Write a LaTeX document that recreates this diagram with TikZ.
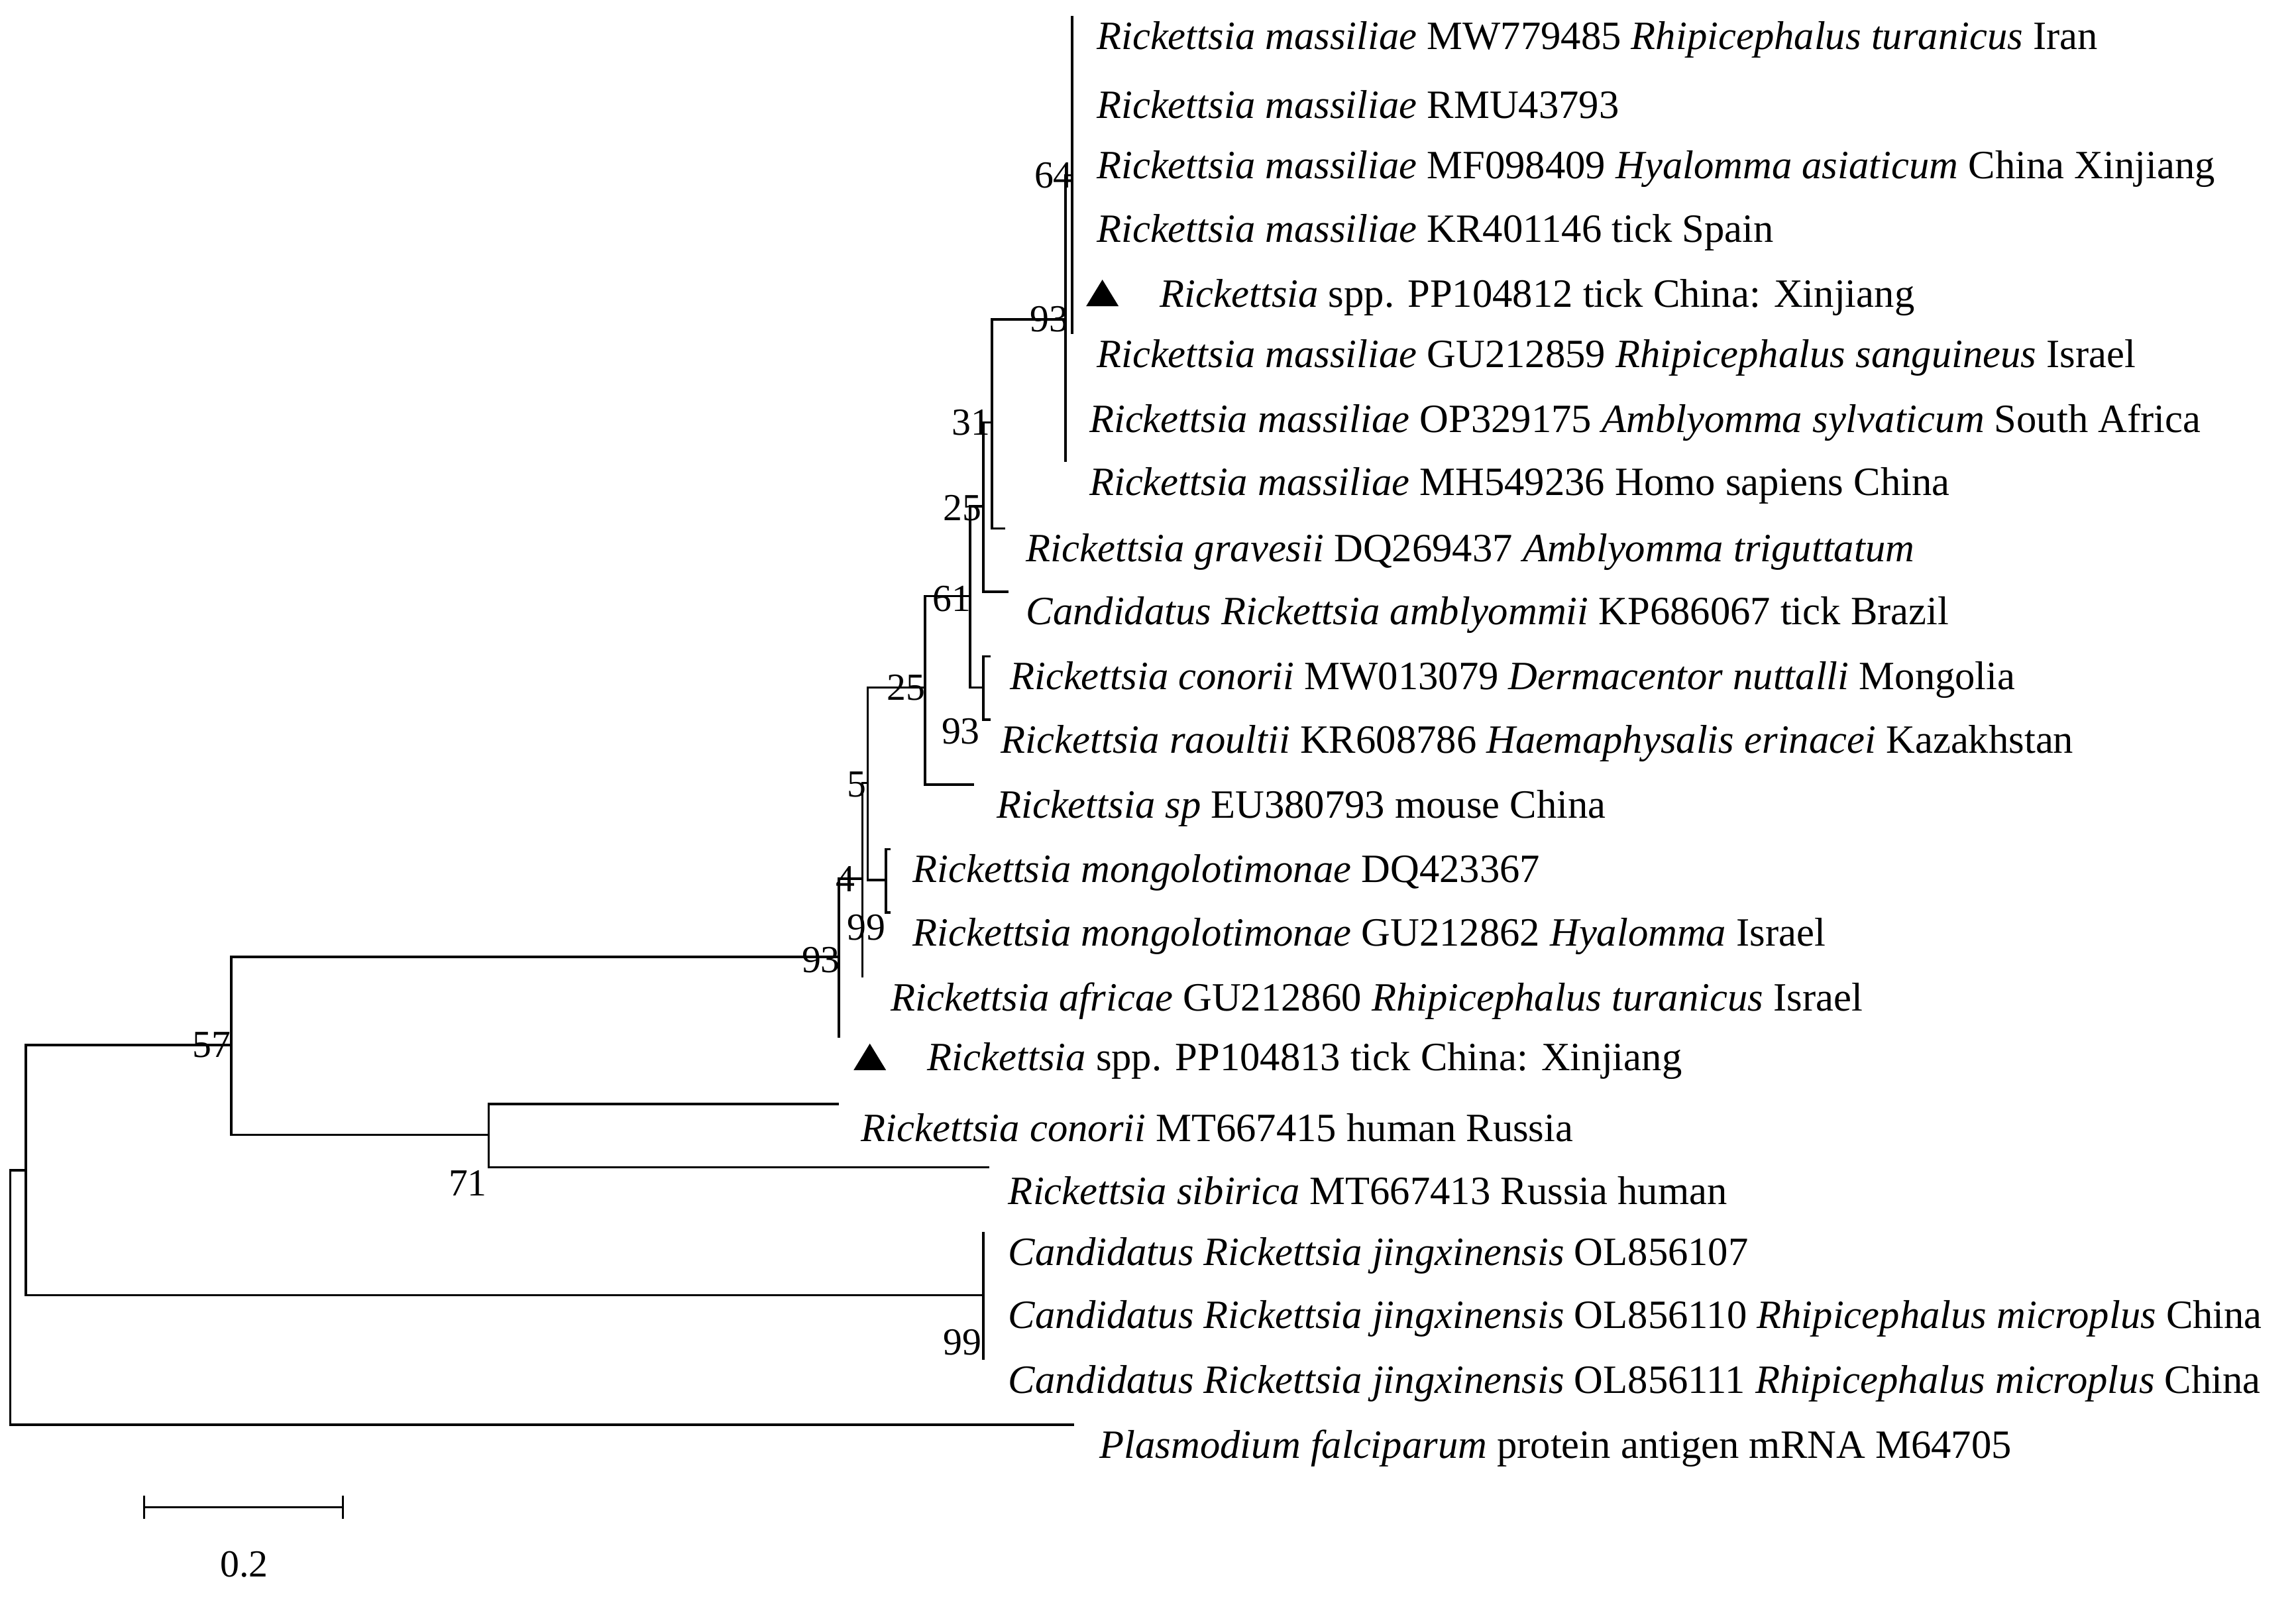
\documentclass[tikz,border=0pt]{standalone}
\usepackage{fontspec}
\setmainfont{Liberation Serif}
\begin{document}
\begin{tikzpicture}[x=1pt,y=-1pt,
  br/.style={line width=1.6pt},
  tip/.style={anchor=west,inner sep=0pt,font=\fontsize{27.3}{30}\selectfont},
  bs/.style={anchor=east,inner sep=0pt,font=\fontsize{26}{28}\selectfont},
  tri/.style={fill=black}]
\useasboundingbox (0,0) rectangle (1560,1089);
% internal nodes
\coordinate (n64) at (728.5,119);
\coordinate (n93) at (724,217);
\coordinate (n31) at (674,287);
\coordinate (n25u) at (668,344);
\coordinate (n93b) at (668,467);
\coordinate (n61) at (659,405);
\coordinate (n25l) at (628.6,467);
\coordinate (n99) at (602,598);
\coordinate (n5) at (589.5,532);
\coordinate (n4) at (586,597);
\coordinate (n93c) at (570,650);
\coordinate (n71) at (332,771);
\coordinate (n57) at (157,710);
\coordinate (nj) at (668,880);
\coordinate (nX) at (17.5,795);
\coordinate (root) at (7,880);
% leaves
\foreach \i/\y in {1/11,2/55,3/99,4/142,5/186,6/227} \coordinate (L\i) at (728.5,\y);
\coordinate (L7) at (724,271);
\coordinate (L8) at (724,314);
\coordinate (L9) at (683,359);
\coordinate (L10) at (685,402);
\coordinate (L11) at (673,446);
\coordinate (L12) at (673,489);
\coordinate (L13) at (662,533);
\coordinate (L14) at (605,577);
\coordinate (L15) at (605,620);
\coordinate (L16) at (586,664);
\coordinate (L17) at (570,705);
\coordinate (L18) at (570,750);
\coordinate (L19) at (672,793);
\coordinate (L20) at (668,837);
\coordinate (L21) at (668,880);
\coordinate (L22) at (668,924);
\coordinate (L23) at (730,968);
% branches
\draw[br] (n64) |- (L1) (n64) |- (L6);
\draw[br] (n93) |- (n64) (n93) |- (L8);
\draw[br] (n31) |- (n93) (n31) |- (L9);
\draw[br] (n25u) |- (n31) (n25u) |- (L10);
\draw[br] (n93b) |- (L11) (n93b) |- (L12);
\draw[br] (n61) |- (n25u) (n61) |- (n93b);
\draw[br] (n25l) |- (n61) (n25l) |- (L13);
\draw[br] (n99) |- (L14) (n99) |- (L15);
\draw[br] (n5) |- (n25l) (n5) |- (n99);
\draw[br] (n4) |- (n5) (n4) |- (L16);
\draw[br] (n93c) |- (n4) (n93c) |- (L17);
\draw[br] (n71) |- (L18) (n71) |- (L19);
\draw[br] (n57) |- (n93c) (n57) |- (n71);
\draw[br] (nj) |- (L20) (nj) |- (L22);
\draw[br] (nX) |- (n57) (nX) |- (nj);
\draw[br] (root) |- (nX) (root) |- (L23);
% bootstrap labels
\node[bs] (b64) at (729,119) {64};
\node[bs] (b93) at (726,217) {93};
\node[bs] (b31) at (673,287) {31};
\node[bs] (b25u) at (667,345) {25};
\node[bs] (b61) at (660,407) {61};
\node[bs] (b93b) at (666,497) {93};
\node[bs] (b25l) at (629,467) {25};
\node[bs] (b5) at (589,533) {5};
\node[bs] (b4) at (581,597) {4};
\node[bs] (b99) at (602,630) {99};
\node[bs] (b93c) at (571,652) {93};
\node[bs] (b57) at (157,710) {57};
\node[bs] (b71) at (331,804) {71};
\node[bs] (b99j) at (667,912) {99};
% tips
\node[tip] (t1) at (745,27) {\textit{Rickettsia massiliae} MW779485 \textit{Rhipicephalus turanicus} Iran};
\node[tip] (t2) at (745,71) {\textit{Rickettsia massiliae} RMU43793};
\node[tip] (t3) at (745,115) {\textit{Rickettsia massiliae} MF098409 \textit{Hyalomma asiaticum} China Xinjiang};
\node[tip] (t4) at (745,158) {\textit{Rickettsia massiliae} KR401146 tick Spain};
\fill[tri] (738,208) -- (760,208) -- (749,190) -- cycle;
\node[tip] (t5) at (788,202) {\textit{Rickettsia} spp. PP104812 tick China: Xinjiang};
\node[tip] (t6) at (745,243) {\textit{Rickettsia massiliae} GU212859 \textit{Rhipicephalus sanguineus} Israel};
\node[tip] (t7) at (740,287) {\textit{Rickettsia massiliae} OP329175 \textit{Amblyomma sylvaticum} South Africa};
\node[tip] (t8) at (740,330) {\textit{Rickettsia massiliae} MH549236 Homo sapiens China};
\node[tip] (t9) at (697,375) {\textit{Rickettsia gravesii} DQ269437 \textit{Amblyomma triguttatum}};
\node[tip] (t10) at (697,418) {\textit{Candidatus Rickettsia amblyommii} KP686067 tick Brazil};
\node[tip] (t11) at (686,462) {\textit{Rickettsia conorii} MW013079 \textit{Dermacentor nuttalli} Mongolia};
\node[tip] (t12) at (680,505) {\textit{Rickettsia raoultii} KR608786 \textit{Haemaphysalis erinacei} Kazakhstan};
\node[tip] (t13) at (677,549) {\textit{Rickettsia sp} EU380793 mouse China};
\node[tip] (t14) at (620,593) {\textit{Rickettsia mongolotimonae} DQ423367};
\node[tip] (t15) at (620,636) {\textit{Rickettsia mongolotimonae} GU212862 \textit{Hyalomma} Israel};
\node[tip] (t16) at (605,680) {\textit{Rickettsia africae} GU212860 \textit{Rhipicephalus turanicus} Israel};
\fill[tri] (580,727) -- (602,727) -- (591,709) -- cycle;
\node[tip] (t17) at (630,721) {\textit{Rickettsia} spp. PP104813 tick China: Xinjiang};
\node[tip] (t18) at (585,766) {\textit{Rickettsia conorii} MT667415 human Russia};
\node[tip] (t19) at (685,809) {\textit{Rickettsia sibirica} MT667413 Russia human};
\node[tip] (t20) at (685,853) {\textit{Candidatus Rickettsia jingxinensis} OL856107};
\node[tip] (t21) at (685,896) {\textit{Candidatus Rickettsia jingxinensis} OL856110 \textit{Rhipicephalus microplus} China};
\node[tip] (t22) at (685,940) {\textit{Candidatus Rickettsia jingxinensis} OL856111 \textit{Rhipicephalus microplus} China};
\node[tip] (t23) at (747,984) {\textit{Plasmodium falciparum} protein antigen mRNA M64705};
% scale bar
\coordinate (s1) at (98,1024);
\coordinate (s2) at (233,1024);
\draw[br] (s1) -- (s2);
\draw[br] ([yshift=-8]s1) -- ([yshift=8]s1);
\draw[br] ([yshift=-8]s2) -- ([yshift=8]s2);
\node[inner sep=0pt,font=\fontsize{26}{28}\selectfont] (sl) at (166,1063) {0.2};
\end{tikzpicture}
\end{document}
